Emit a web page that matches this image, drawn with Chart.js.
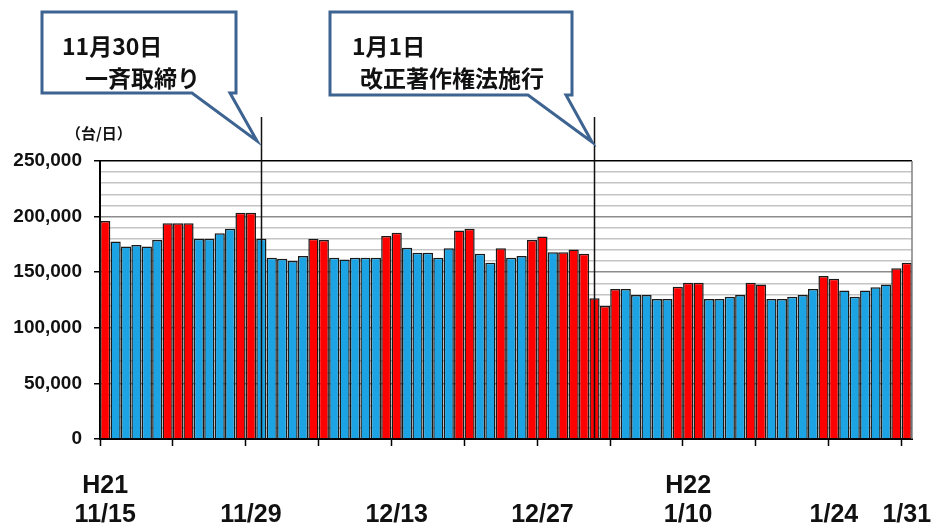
<!DOCTYPE html>
<html>
<head>
<meta charset="utf-8">
<script src="https://cdn.jsdelivr.net/npm/chart.js@4/dist/chart.umd.min.js"></script>
<style>
  html, body { margin: 0; padding: 0; background: #fff; }
  #wrap { width: 938px; height: 530px; position: relative; }
</style>
</head>
<body>
<div id="wrap"><canvas id="trafficChart"></canvas></div>
<script>
// days from H21 11/15 to H22 1/31
const novDays = ['11/15','11/16','11/17','11/18','11/19','11/20','11/21','11/22','11/23','11/24','11/25','11/26','11/27','11/28','11/29','11/30'];
const decDays = ['12/1','12/2','12/3','12/4','12/5','12/6','12/7','12/8','12/9','12/10','12/11','12/12','12/13','12/14','12/15','12/16',
  '12/17','12/18','12/19','12/20','12/21','12/22','12/23','12/24','12/25','12/26','12/27','12/28','12/29','12/30','12/31'];
const janDays = ['1/1','1/2','1/3','1/4','1/5','1/6','1/7','1/8','1/9','1/10','1/11','1/12','1/13','1/14','1/15','1/16',
  '1/17','1/18','1/19','1/20','1/21','1/22','1/23','1/24','1/25','1/26','1/27','1/28','1/29','1/30','1/31'];

// vehicles per day
const novValues = [196000,177500,173000,174500,173000,179000,194000,194000,194000,180000,180000,185000,189000,203500,203500,180000];
const decValues = [163000,162000,160000,164500,180000,179000,163000,161500,163000,163000,163000,182500,185500,172000,167500,167500,
  163000,171500,187500,189000,166500,158500,171500,163000,164500,179000,182000,168000,168000,170500,166500];
const janValues = [126500,119500,135000,135000,129500,129500,126000,126000,137000,140500,140500,126000,126000,128000,129500,140500,
  139000,126000,126000,128000,129500,135000,146500,144000,133500,128000,133500,136500,139000,153500,158500];

// H = weekend / holiday, W = weekday
const novType = 'HWWWWWHHHWWWWHHW'.split('');
const decType = 'WWWWHHWWWWWHHWWWWWHHWWHWWHHWHHH'.split('');
const janType = 'HHHWWWWWHHHWWWWHHWWWWWHHWWWWWHH'.split('');

const shownDates = ['11/15','11/29','12/13','12/27','1/10','1/24','1/31'];
const eraMarks = { '11/15': 'H21', '1/10': 'H22' };
const yTicks = [0, 50000, 100000, 150000, 200000, 250000];

const events = [
  { date: '11/30', lines: ['11月30日', '一斉取締り'] },
  { date: '1/1', lines: ['1月1日', '改正著作権法施行'] }
];

const labels = novDays.concat(decDays, janDays);
const values = novValues.concat(decValues, janValues);
const dayType = novType.concat(decType, janType);

const RED = '#ff0000';
const BLUE = '#1ba3e3';
const LATIN = "'Liberation Sans', Arial, sans-serif";
const CJK = "'Noto Sans CJK JP', sans-serif";

function drawCallout(ctx, box, tail, lines, textPos) {
  ctx.save();
  ctx.beginPath();
  ctx.moveTo(box.l, box.t);
  ctx.lineTo(box.r, box.t);
  ctx.lineTo(box.r, box.b);
  ctx.lineTo(tail.b2, box.b);
  ctx.lineTo(tail.x, tail.y);
  ctx.lineTo(tail.b1, box.b);
  ctx.lineTo(box.l, box.b);
  ctx.closePath();
  ctx.fillStyle = '#fff';
  ctx.fill();
  ctx.strokeStyle = '#3d6391';
  ctx.lineWidth = 3;
  ctx.lineJoin = 'miter';
  ctx.stroke();
  ctx.fillStyle = '#111';
  ctx.font = 'bold 23px ' + CJK;
  ctx.textBaseline = 'alphabetic';
  ctx.fillText(lines[0], textPos[0][0], textPos[0][1]);
  ctx.fillText(lines[1], textPos[1][0], textPos[1][1]);
  ctx.restore();
}

const overlayPlugin = {
  id: 'overlay',
  afterDatasetsDraw(chart) {
    const { ctx, chartArea, scales } = chart;
    ctx.save();
    // right frame of plot area
    ctx.strokeStyle = '#808080';
    ctx.lineWidth = 1.5;
    ctx.beginPath();
    ctx.moveTo(chartArea.right, chartArea.top);
    ctx.lineTo(chartArea.right, chartArea.bottom);
    ctx.stroke();
    // event lines
    ctx.strokeStyle = '#111';
    ctx.lineWidth = 1.5;
    events.forEach(ev => {
      const x = Math.round(scales.x.getPixelForValue(labels.indexOf(ev.date))) + 0.5;
      ctx.beginPath();
      ctx.moveTo(x, 117);
      ctx.lineTo(x, chartArea.bottom);
      ctx.stroke();
    });
    // unit label
    ctx.fillStyle = '#111';
    ctx.font = 'bold 15px ' + CJK;
    ctx.textAlign = 'left';
    ctx.textBaseline = 'middle';
    ctx.fillText('（台/日）', 66, 133);
    ctx.restore();

    drawCallout(ctx, { l: 42, t: 12, r: 236, b: 93 }, { b1: 192, b2: 230, x: 257, y: 141 },
      events[0].lines, [[62, 55], [85, 87]]);
    drawCallout(ctx, { l: 330, t: 12, r: 572, b: 95 }, { b1: 528, b2: 566, x: 592, y: 142 },
      events[1].lines, [[352, 55], [360, 87]]);
  }
};

const chart = new Chart(document.getElementById('trafficChart'), {
  type: 'bar',
  data: {
    labels: labels,
    datasets: [{
      data: values,
      backgroundColor: dayType.map(t => t === 'H' ? RED : BLUE),
      borderColor: '#1a1a1a',
      borderWidth: 1.5,
      borderSkipped: 'start',
      barPercentage: 0.98,
      categoryPercentage: 1.0
    }]
  },
  options: {
    responsive: true,
    maintainAspectRatio: false,
    animation: false,
    layout: { padding: { top: 161, right: 26, left: 0, bottom: 0 } },
    plugins: { legend: { display: false }, tooltip: { enabled: false } },
    scales: {
      x: {
        afterFit: s => {
          s.height = 91;
          s.paddingLeft = 0;
          s.paddingRight = 0;
        },
        border: { display: true, color: '#000', width: 2 },
        grid: {
          drawOnChartArea: false,
          offset: true,
          tickLength: 7,
          tickWidth: 1.5,
          tickColor: c => (c.index % 7 === 0 ? '#000' : 'rgba(0,0,0,0)')
        },
        ticks: {
          autoSkip: false,
          maxRotation: 0,
          minRotation: 0,
          padding: 26,
          color: '#111',
          font: { family: LATIN, size: 25, weight: 'bold', lineHeight: 1.15 },
          callback: function (v, i) {
            const d = labels[i];
            if (!shownDates.includes(d)) return '';
            return [eraMarks[d] || '', d];
          }
        }
      },
      y: {
        min: 0,
        max: 250000,
        afterFit: s => { s.width = 100; },
        afterBuildTicks: s => {
          const t = [];
          for (let v = 0; v <= 250000; v += 10000) t.push({ value: v });
          s.ticks = t;
        },
        border: { display: true, color: '#000', width: 2 },
        grid: {
          color: c => {
            const v = c.tick ? c.tick.value : 0;
            if (v === 250000) return '#000';
            if (v % 50000 === 0) return '#8c8c8c';
            return '#c4c4c4';
          },
          lineWidth: 1.5,
          tickLength: 6,
          tickColor: c => (c.tick && c.tick.value % 50000 === 0 ? '#000' : 'rgba(0,0,0,0)')
        },
        ticks: {
          autoSkip: false,
          padding: 12,
          color: '#111',
          font: { family: LATIN, size: 19, weight: 'bold' },
          callback: v => (yTicks.includes(v) ? v.toLocaleString('en-US') : '')
        }
      }
    }
  },
  plugins: [overlayPlugin]
});
</script>
</body>
</html>
